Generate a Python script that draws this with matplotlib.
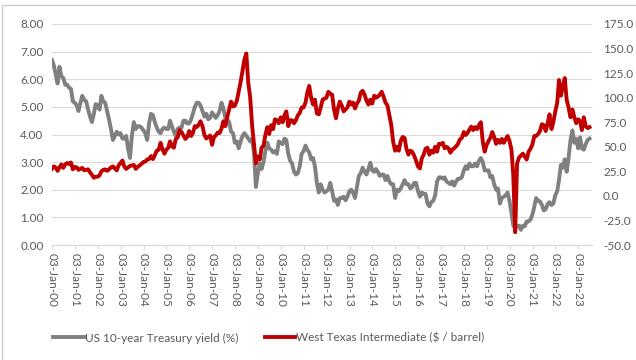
import numpy as np
import pandas as pd
import matplotlib.pyplot as plt
import matplotlib.ticker as mticker
import matplotlib.dates as mdates
from matplotlib.patches import Rectangle

plt.rcParams['font.family'] = ['Lato', 'DejaVu Sans']

# Rendimiento del bono del Tesoro a 10 años (%), mensual desde ene-2000
rendimiento = [
    6.70, 6.50, 6.20, 5.85, 6.45, 6.10, 6.05, 5.80, 5.80, 5.70, 5.65, 5.20,
    5.15, 5.05, 4.85, 5.15, 5.40, 5.25, 5.20, 4.90, 4.65, 4.45, 4.75, 5.10,
    5.05, 4.90, 5.40, 5.20, 5.15, 4.85, 4.55, 4.20, 3.80, 3.95, 4.10, 4.00,
    4.05, 3.85, 3.85, 3.95, 3.50, 3.15, 3.95, 4.45, 4.20, 4.30, 4.30, 4.25,
    4.15, 4.05, 3.80, 4.40, 4.75, 4.70, 4.45, 4.25, 4.10, 4.05, 4.20, 4.25,
    4.20, 4.20, 4.50, 4.30, 4.10, 3.95, 4.20, 4.25, 4.25, 4.50, 4.50, 4.40,
    4.40, 4.55, 4.75, 5.00, 5.15, 5.15, 5.05, 4.85, 4.65, 4.75, 4.55, 4.60,
    4.80, 4.70, 4.60, 4.70, 4.85, 5.15, 4.95, 4.60, 4.55, 4.45, 4.10, 4.05,
    3.70, 3.75, 3.50, 3.75, 3.95, 4.05, 3.95, 3.85, 3.75, 3.85, 3.30, 2.10,
    2.60, 2.95, 2.75, 3.00, 3.40, 3.70, 3.50, 3.45, 3.35, 3.40, 3.30, 3.75,
    3.70, 3.65, 3.85, 3.80, 3.30, 3.05, 2.95, 2.65, 2.55, 2.60, 2.85, 3.30,
    3.40, 3.60, 3.45, 3.35, 3.10, 3.15, 2.85, 2.25, 1.90, 2.20, 2.00, 1.90,
    1.95, 2.00, 2.25, 1.95, 1.60, 1.65, 1.45, 1.70, 1.70, 1.75, 1.62, 1.75,
    1.95, 2.00, 1.90, 1.70, 2.10, 2.50, 2.60, 2.80, 2.65, 2.55, 2.75, 2.98,
    2.70, 2.65, 2.75, 2.65, 2.50, 2.55, 2.55, 2.35, 2.50, 2.30, 2.20, 2.20,
    1.70, 2.00, 1.95, 2.05, 2.20, 2.35, 2.20, 2.20, 2.05, 2.10, 2.25, 2.25,
    1.95, 1.75, 1.90, 1.85, 1.85, 1.50, 1.40, 1.55, 1.60, 1.80, 2.30, 2.45,
    2.45, 2.40, 2.45, 2.30, 2.25, 2.20, 2.30, 2.15, 2.30, 2.40, 2.40, 2.45,
    2.70, 2.85, 2.75, 2.95, 2.85, 2.85, 2.95, 2.85, 3.05, 3.15, 3.00, 2.70,
    2.70, 2.70, 2.45, 2.50, 2.20, 2.00, 2.05, 1.50, 1.70, 1.75, 1.80, 1.90,
    1.60, 1.15, 0.70, 0.62, 0.68, 0.70, 0.55, 0.70, 0.68, 0.85, 0.85, 0.92,
    1.10, 1.40, 1.70, 1.60, 1.58, 1.45, 1.25, 1.30, 1.48, 1.55, 1.45, 1.50,
    1.80, 1.95, 2.35, 2.90, 2.80, 3.10, 2.65, 3.15, 3.80, 4.15, 3.70, 3.85,
    3.50, 3.90, 3.50, 3.45, 3.65, 3.80, 3.85,
]

# West Texas Intermediate ($/barril), mensual desde ene-2000
wti = [
    27.5, 30.0, 29.0, 25.5, 29.0, 32.0, 28.5, 32.0, 33.5, 32.5, 34.0, 27.0,
    29.5, 29.0, 26.5, 27.5, 28.5, 26.0, 26.5, 27.0, 24.0, 21.5, 18.5, 19.5,
    19.5, 21.0, 25.0, 26.5, 27.0, 25.5, 27.0, 29.0, 30.0, 28.0, 26.0, 31.0,
    33.5, 36.0, 30.0, 27.5, 29.0, 30.5, 31.0, 31.5, 27.5, 29.5, 31.0, 32.5,
    34.5, 35.0, 37.0, 37.5, 40.5, 37.5, 41.5, 46.0, 47.0, 54.0, 47.5, 43.0,
    47.0, 49.0, 55.5, 50.5, 49.0, 58.0, 59.5, 67.0, 65.0, 61.5, 58.0, 60.0,
    66.0, 61.0, 64.0, 71.0, 70.0, 72.5, 76.0, 71.0, 62.0, 58.5, 60.0, 61.5,
    52.0, 60.0, 61.5, 64.5, 64.0, 68.5, 76.0, 71.0, 80.5, 88.0, 96.0, 91.0,
    92.0, 97.0, 106.0, 116.0, 127.0, 139.0, 145.0, 115.0, 100.0, 72.0, 52.0, 33.0,
    40.0, 37.0, 49.0, 51.0, 62.0, 70.0, 63.0, 72.0, 68.0, 78.0, 77.0, 74.0,
    80.0, 75.0, 82.0, 86.0, 71.0, 77.0, 77.0, 74.0, 77.0, 82.0, 84.5, 90.0,
    90.0, 95.0, 105.0, 112.0, 100.0, 93.0, 98.0, 84.0, 83.0, 90.0, 98.0, 99.0,
    100.0, 106.0, 104.0, 103.0, 88.0, 79.0, 89.0, 96.0, 92.0, 86.0, 88.0, 90.0,
    96.0, 93.0, 95.0, 89.0, 94.0, 97.0, 105.0, 107.0, 103.0, 97.0, 93.0, 98.0,
    94.0, 102.0, 100.0, 101.0, 103.0, 106.0, 101.0, 95.0, 92.0, 82.0, 72.0, 55.0,
    46.0, 50.0, 46.0, 56.0, 60.0, 59.0, 48.0, 42.0, 46.0, 45.0, 41.0, 36.0,
    30.0, 28.0, 38.0, 42.0, 48.0, 49.0, 42.0, 46.0, 44.0, 50.0, 45.0, 53.0,
    52.5, 54.0, 48.5, 50.0, 48.5, 44.0, 47.0, 48.5, 50.5, 53.0, 57.5, 59.0,
    65.0, 62.0, 64.0, 67.5, 70.5, 67.0, 70.0, 68.0, 72.0, 75.0, 55.0, 45.0,
    52.0, 56.0, 59.0, 65.0, 60.0, 53.0, 57.0, 54.0, 58.0, 54.0, 57.5, 61.0,
    56.0, 47.0, 22.0, -37.0, 33.0, 39.0, 41.0, 43.0, 40.0, 37.0, 45.0, 48.0,
    52.5, 61.0, 61.0, 63.0, 66.0, 73.0, 72.0, 66.0, 74.0, 83.0, 68.0, 75.0,
    86.0, 95.0, 118.0, 102.0, 112.0, 120.0, 98.0, 90.0, 80.0, 88.0, 80.0, 74.0,
    78.0, 76.0, 67.0, 80.0, 71.0, 69.0, 70.0,
]

fechas = pd.date_range('2000-01-01', periods=len(rendimiento), freq='MS')
etiquetas = pd.to_datetime([f'{y}-01-03' for y in range(2000, 2024)])

gris = '#808080'
rojo = '#c00000'
texto = '#595959'

fig = plt.figure(figsize=(6.36, 3.6), dpi=100)
ax = fig.add_axes([52 / 636, 1 - 245 / 360, 540 / 636, 221 / 360])
ax2 = ax.twinx()

ax.plot(fechas, rendimiento, color=gris, lw=2.8, label='US 10-year Treasury yield (%)', zorder=3)
ax2.plot(fechas, wti, color=rojo, lw=2.8, label='West Texas Intermediate ($ / barrel)', zorder=4)

ax.set_ylim(0, 8)
ax.set_yticks(np.arange(0, 8.01, 1))
ax.yaxis.set_major_formatter(mticker.FormatStrFormatter('%.2f'))
ax2.set_ylim(-50, 175)
ax2.set_yticks(np.arange(-50, 175.1, 25))
ax2.yaxis.set_major_formatter(mticker.FormatStrFormatter('%.1f'))

ax.set_xlim(pd.Timestamp('2000-01-03'), pd.Timestamp('2023-08-10'))
ax.set_xticks(etiquetas)
ax.xaxis.set_major_formatter(mdates.DateFormatter('%d-%b-%y'))
for lbl in ax.get_xticklabels():
    lbl.set_rotation(270)

ax.grid(axis='y', color='#d9d9d9', lw=0.8)
ax.set_axisbelow(True)
for a in (ax, ax2):
    for s in ('top', 'left', 'right'):
        a.spines[s].set_visible(False)
    a.spines['bottom'].set_color('#d9d9d9')
ax2.spines['bottom'].set_visible(False)

ax.tick_params(axis='y', length=0, labelsize=8.5, labelcolor=texto, pad=6)
ax2.tick_params(axis='y', length=0, labelsize=8.5, labelcolor=texto, pad=8)
ax.tick_params(axis='x', length=3, color='#d9d9d9', labelsize=8.5, labelcolor=texto, pad=3)

h1, l1 = ax.get_legend_handles_labels()
h2, l2 = ax2.get_legend_handles_labels()
fig.legend(h1 + h2, l1 + l2, loc='center', bbox_to_anchor=(269 / 636, 1 - 338 / 360),
           ncol=2, frameon=False, fontsize=8.5, labelcolor=texto,
           handlelength=2.6, handletextpad=0.1, columnspacing=2.2)

# marco gris claro del gráfico (cortado a la derecha y abajo)
fig.patches.append(Rectangle((2 / 636, -0.1), 1.1, 1.1 - 5 / 360,
                             transform=fig.transFigure, fill=False,
                             edgecolor='#d0d0d0', lw=1.0))

fig.savefig('out.png', dpi=100)
